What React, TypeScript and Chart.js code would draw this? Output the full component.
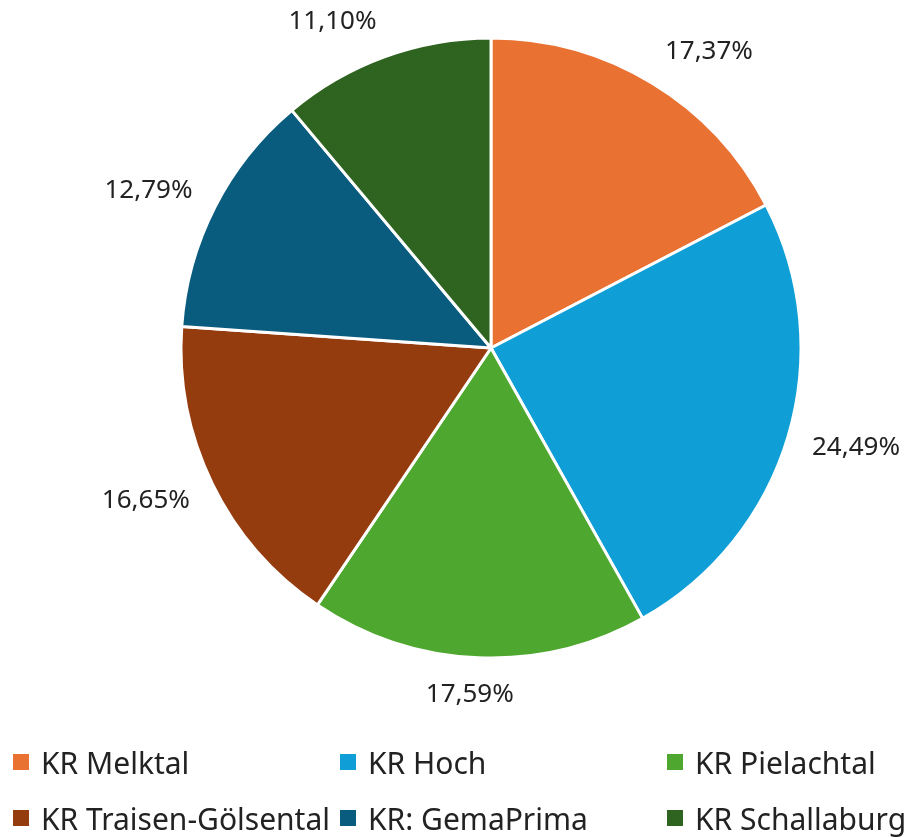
import React, { useEffect, useRef } from "react";
import { Chart, registerables } from "chart.js";

Chart.register(...registerables);

const categories = [
  "KR Melktal",
  "KR Hoch",
  "KR Pielachtal",
  "KR Traisen-Gölsental",
  "KR: GemaPrima",
  "KR Schallaburg",
];
const shares = [17.37, 24.49, 17.59, 16.65, 12.79, 11.1];
const colors = ["#E97132", "#0F9ED5", "#4EA72E", "#953C0F", "#0A5C7F", "#2E6320"];

const FONT = "'Noto Sans', sans-serif";
const LABEL_SIZE = 26;
const LEGEND_SIZE = 30;

const outsideLabels = {
  id: "outsideLabels",
  afterDatasetsDraw(chart: any) {
    const { ctx } = chart;
    const meta = chart.getDatasetMeta(0);
    ctx.save();
    ctx.font = `${LABEL_SIZE}px ${FONT}`;
    ctx.fillStyle = "#222";
    ctx.textAlign = "center";
    ctx.textBaseline = "middle";
    meta.data.forEach((arc: any, i: number) => {
      const { x, y, startAngle, endAngle, outerRadius } = arc.getProps(
        ["x", "y", "startAngle", "endAngle", "outerRadius"],
        true
      );
      const mid = (startAngle + endAngle) / 2;
      const text = shares[i].toFixed(2).replace(".", ",") + "%";
      const w = ctx.measureText(text).width;
      const h = LABEL_SIZE * 0.95;
      const c = Math.cos(mid);
      const s = Math.sin(mid);
      const R = outerRadius + 25;
      const px = x + c * R;
      const py = y + s * R;
      const fx = Math.max(-1, Math.min(1, c * 4));
      ctx.fillText(text, px + (fx * w) / 2, py + (s * h) / 2);
    });
    ctx.restore();
  },
};

export default function App() {
  const ref = useRef<HTMLCanvasElement>(null);
  useEffect(() => {
    const chart = new Chart(ref.current!, {
      type: "pie",
      data: {
        labels: categories,
        datasets: [
          {
            data: shares,
            backgroundColor: colors,
            borderColor: "#ffffff",
            borderWidth: 3,
          },
        ],
      },
      options: {
        animation: false,
        responsive: false,
        layout: { padding: { top: 36.5, bottom: 178.5, left: 100, right: 26 } },
        plugins: { legend: { display: false }, tooltip: { enabled: false } },
      },
      plugins: [outsideLabels],
    });
    return () => chart.destroy();
  }, []);

  const cols = [13, 340, 667];
  const rows = [762, 818];
  return (
    <div style={{ position: "fixed", left: 0, top: 0, width: 908, height: 838, background: "#fff" }}>
      <canvas ref={ref} width={908} height={838} style={{ position: "absolute", left: 0, top: 0 }} />
      {categories.map((c, i) => (
        <div
          key={c}
          style={{
            position: "absolute",
            left: cols[i % 3],
            top: rows[Math.floor(i / 3)] - 20,
            height: 40,
            display: "flex",
            alignItems: "center",
            fontFamily: FONT,
            fontSize: LEGEND_SIZE,
            color: "#222",
            whiteSpace: "nowrap",
          }}
        >
          <span style={{ display: "inline-block", width: 16, height: 16, background: colors[i], marginRight: 12 }} />
          <span>{c}</span>
        </div>
      ))}
    </div>
  );
}
